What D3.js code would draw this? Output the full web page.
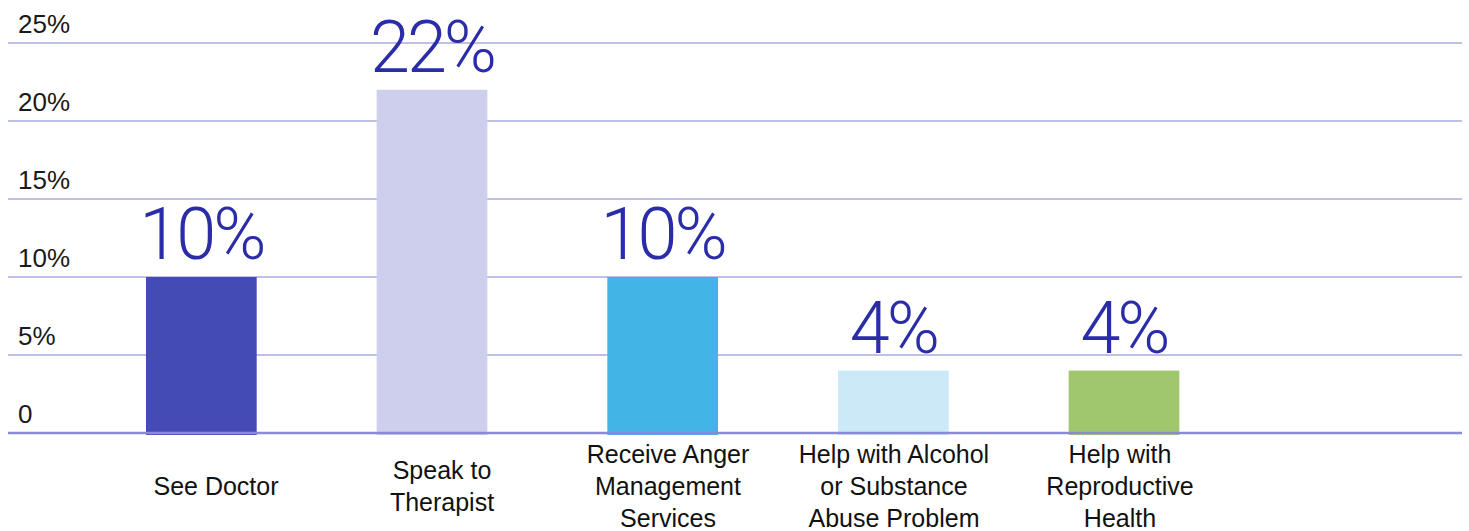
<!DOCTYPE html>
<html>
<head>
<meta charset="utf-8">
<script src="https://cdn.jsdelivr.net/npm/d3@7"></script>
<style>
  html, body { margin: 0; padding: 0; background: #fff; }
  svg { display: block; }
</style>
</head>
<body>
<svg id="chart" width="1469" height="531"></svg>
<script>
// Services respondents said they would use
const categories = [
  ["See Doctor"],
  ["Speak to", "Therapist"],
  ["Receive Anger", "Management", "Services"],
  ["Help with Alcohol", "or Substance", "Abuse Problem"],
  ["Help with", "Reproductive", "Health"]
];
const values = [10, 22, 10, 4, 4];
const barColors = ["#454bb5", "#cdcfec", "#42b4e6", "#cbe9f7", "#a0c76d"];
const yTicks = [0, 5, 10, 15, 20, 25];
const yTickLabels = ["0", "5%", "10%", "15%", "20%", "25%"];

const svg = d3.select("#chart");
const W = 1469;

const y = d3.scaleLinear().domain([0, 25]).range([433, 43]);

// category slots (six slots, the last one left empty)
const slots = d3.range(6);
const xLabel = d3.scaleBand().domain(slots).range([103, 1459]).padding(0);
const xBar = d3.scaleBand().domain(slots).range([86, 1470]).paddingInner(0.52).paddingOuter(0.26);

// gridlines
svg.append("g")
  .selectAll("line")
  .data(yTicks.filter(d => d > 0))
  .join("line")
  .attr("x1", 8).attr("x2", 1462)
  .attr("y1", d => y(d)).attr("y2", d => y(d))
  .attr("stroke", "#a9abdd")
  .attr("stroke-width", 1.5);

// y tick labels
svg.append("g")
  .selectAll("text")
  .data(yTicks)
  .join("text")
  .attr("x", 18)
  .attr("y", d => y(d) - 10)
  .attr("font-family", "Liberation Sans, Arial, sans-serif")
  .attr("font-size", 26)
  .attr("fill", "#1a1a1a")
  .text((d, i) => yTickLabels[i]);

// bars
svg.append("g")
  .selectAll("rect")
  .data(values)
  .join("rect")
  .attr("x", (d, i) => xBar(i))
  .attr("width", xBar.bandwidth())
  .attr("y", d => y(d))
  .attr("height", d => y(0) - y(d) + 2)
  .attr("fill", (d, i) => barColors[i]);

// baseline
svg.append("line")
  .attr("x1", 8).attr("x2", 1462)
  .attr("y1", y(0)).attr("y2", y(0))
  .attr("stroke", "#8a8ad6")
  .attr("stroke-width", 2.5);

// value labels
svg.append("g")
  .selectAll("text")
  .data(values)
  .join("text")
  .attr("x", (d, i) => xBar(i) + xBar.bandwidth() / 2)
  .attr("y", d => y(d) - 18)
  .attr("text-anchor", "middle")
  .attr("font-family", "Roboto, sans-serif")
  .attr("font-weight", 300)
  .attr("font-size", 72)
  .attr("letter-spacing", -3)
  .attr("fill", "#2a2ca8")
  .text(d => d + "%");

// category labels
const lineH = 32;
svg.append("g")
  .selectAll("text")
  .data(categories)
  .join("text")
  .attr("text-anchor", "middle")
  .attr("font-family", "Liberation Sans, Arial, sans-serif")
  .attr("font-size", 25)
  .attr("fill", "#111")
  .each(function(lines, i) {
    const t = d3.select(this);
    const cx = xLabel(i) + xLabel.bandwidth() / 2;
    // labels are centred vertically around a common middle line
    const firstBaseline = 495 - (lines.length - 1) * lineH / 2;
    lines.forEach((s, k) => {
      t.append("tspan")
        .attr("x", cx)
        .attr("y", firstBaseline + k * lineH)
        .text(s);
    });
  });
</script>
</body>
</html>
